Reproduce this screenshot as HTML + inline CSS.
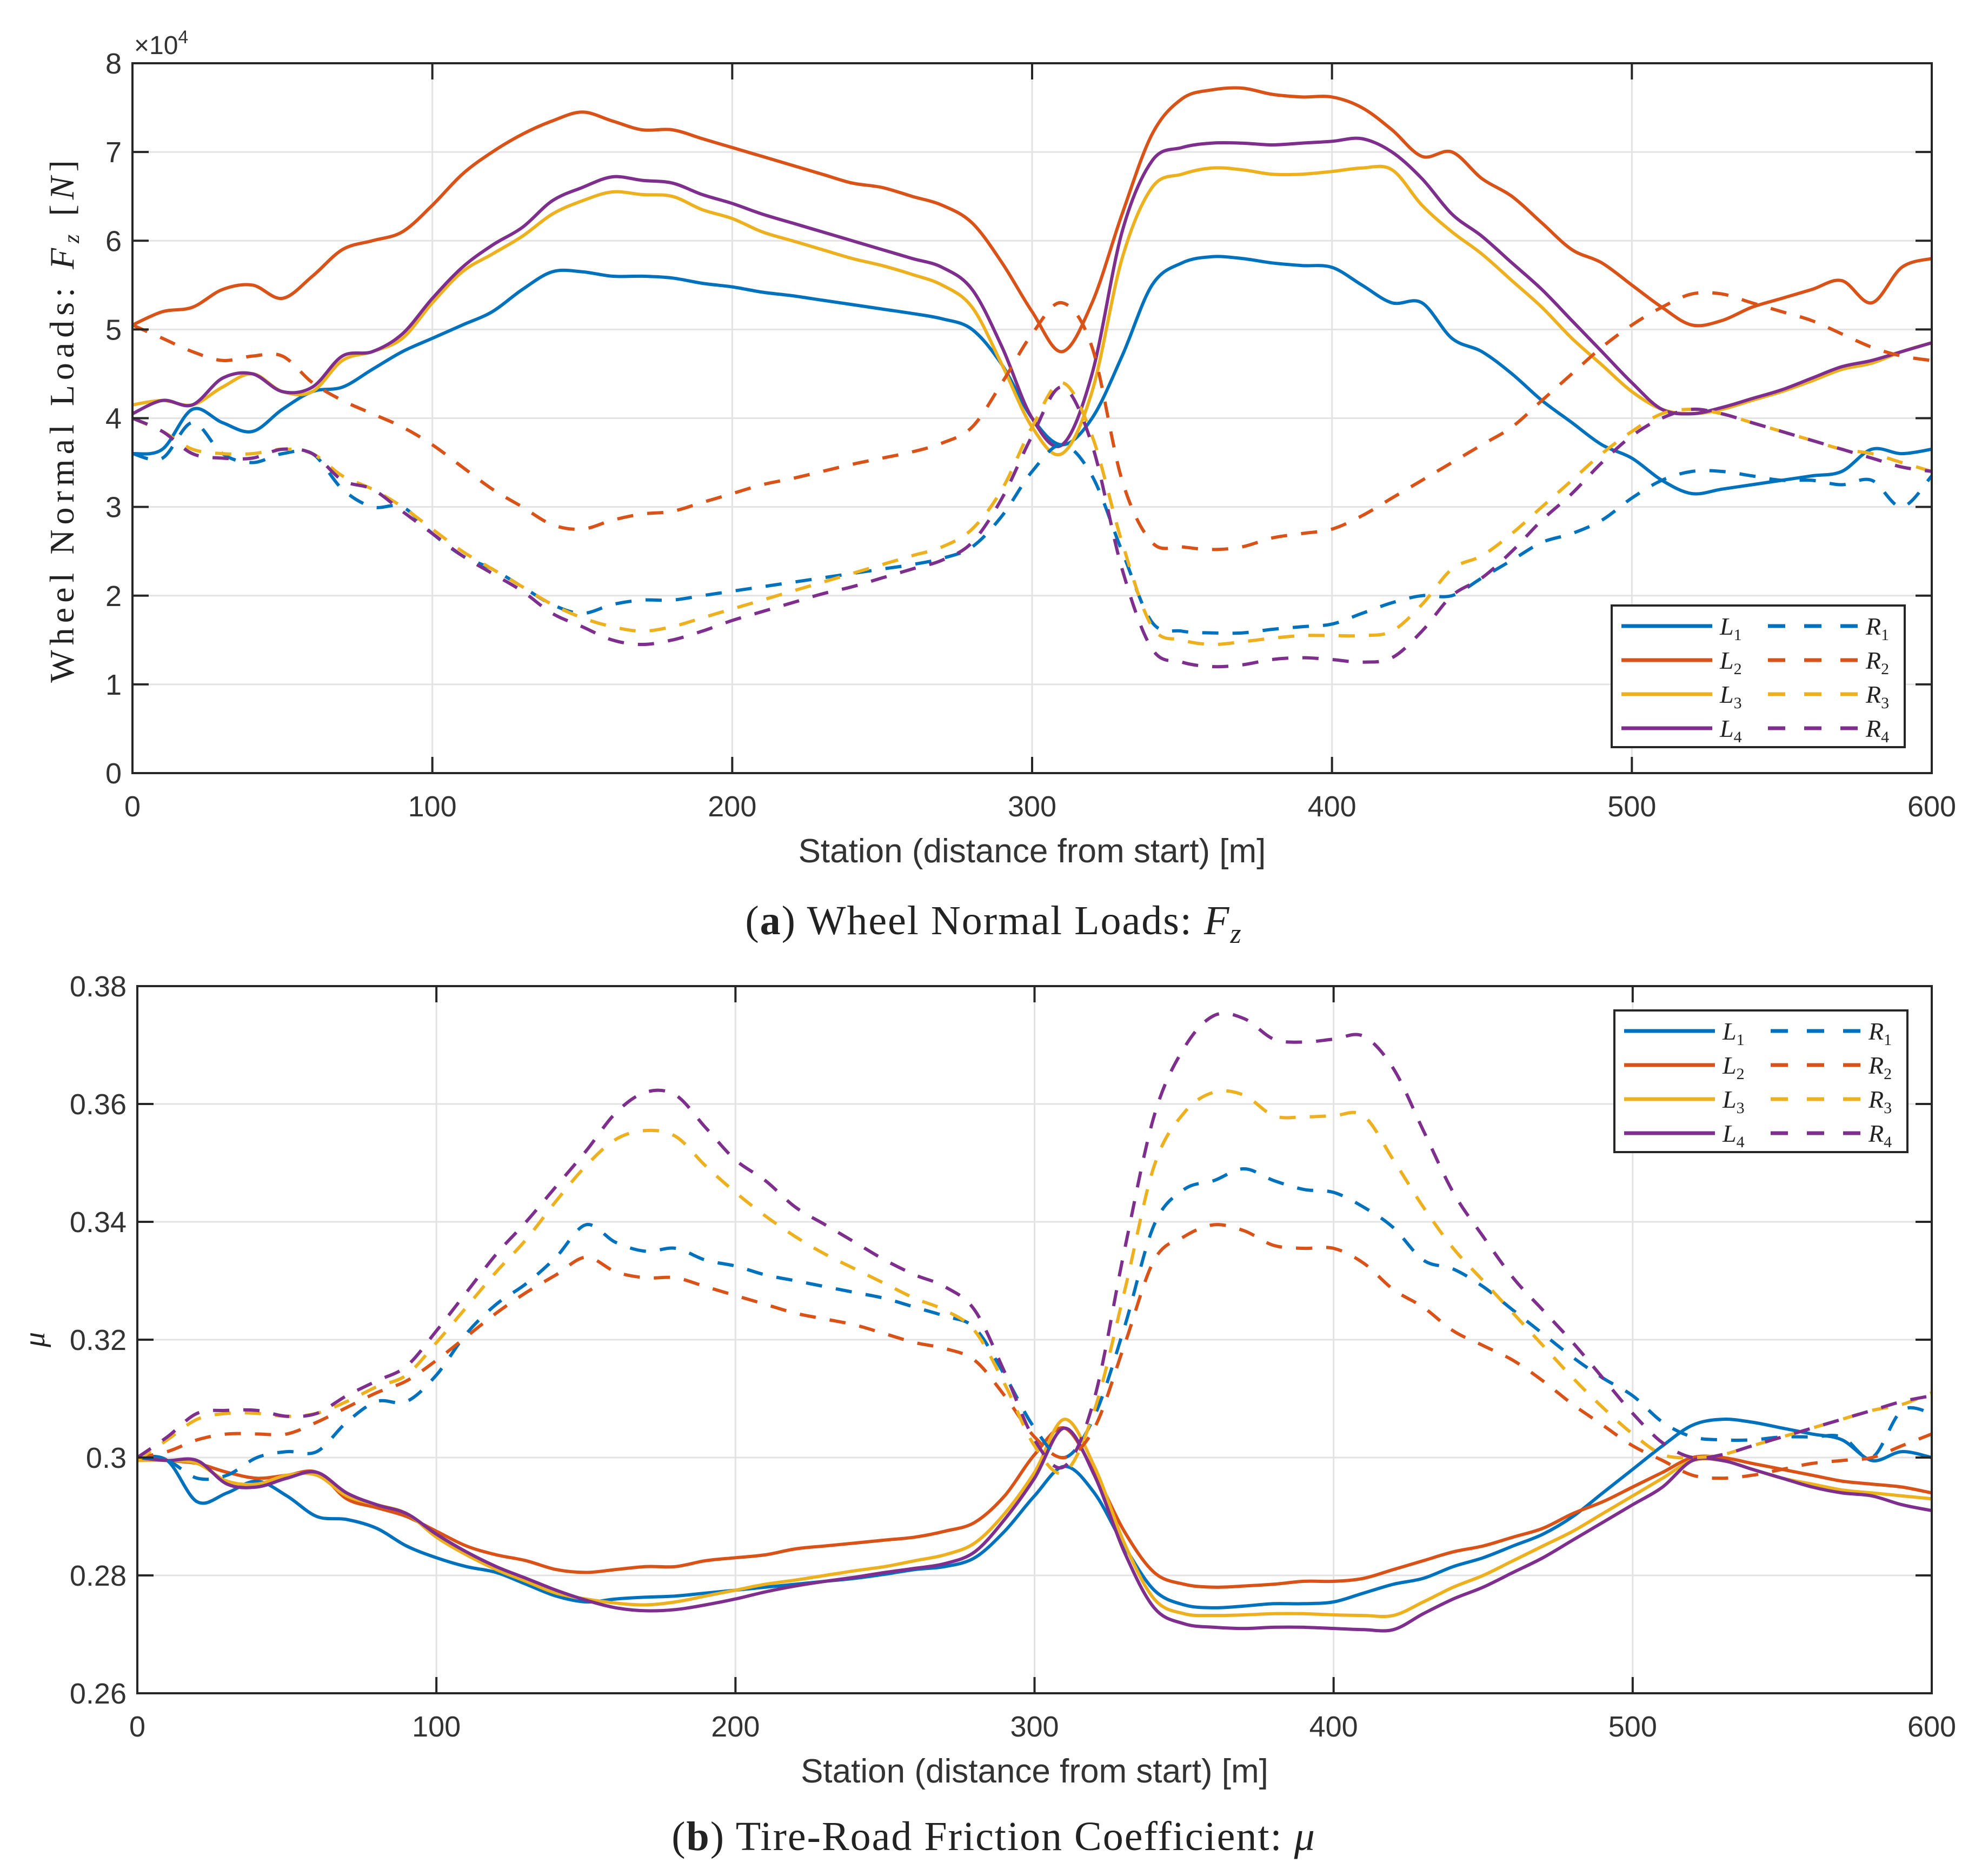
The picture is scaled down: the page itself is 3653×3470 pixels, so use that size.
<!DOCTYPE html>
<html><head><meta charset="utf-8">
<style>
html,body{margin:0;padding:0;background:#fff;}
svg{display:block;}
text{font-family:"Liberation Sans",sans-serif;fill:#333;}
.serif{font-family:"Liberation Serif",serif;fill:#222;}
</style></head>
<body>
<svg id="fig" width="3653" height="3470" viewBox="0 0 3653 3470" xmlns="http://www.w3.org/2000/svg">
<rect width="3653" height="3470" fill="#fff"/>
<g id="plotA"></g>
<g id="plotB"></g>
<text class="serif" x="1838" y="1728" font-size="76" letter-spacing="2" text-anchor="middle">(<tspan font-weight="bold">a</tspan>) Wheel Normal Loads:  <tspan font-style="italic">F</tspan><tspan font-style="italic" font-size="52" dy="16">z</tspan></text>
<text class="serif" x="1838" y="3422" font-size="76" letter-spacing="2" text-anchor="middle">(<tspan font-weight="bold">b</tspan>) Tire-Road Friction Coefficient:  <tspan font-style="italic">μ</tspan></text>
</svg>
<script>
const stations=[0,10,20,30,40,50,60,70,80,90,100,110,120,130,140,150,160,170,180,190,200,210,220,230,240,250,260,270,280,290,300,310,320,330,340,350,360,370,380,390,400,410,420,430,440,450,460,470,480,490,500,510,520,530,540,550,560,570,580,590,600];
const xTicks=[0,100,200,300,400,500,600];
const yTicksA=[0,1,2,3,4,5,6,7,8];
const yTicksB=[0.26,0.28,0.30,0.32,0.34,0.36,0.38];
const yTickLabelsB=["0.26","0.28","0.3","0.32","0.34","0.36","0.38"];
const colors=["#0072BD","#D95319","#EDB120","#7E2F8E"];
// Plot (a): Fz in 1e4 N
const fzL1=[3.6,3.65,4.1,3.95,3.85,4.1,4.3,4.35,4.55,4.75,4.9,5.05,5.2,5.45,5.65,5.65,5.6,5.6,5.58,5.52,5.48,5.42,5.38,5.33,5.28,5.23,5.18,5.12,5.0,4.6,4.0,3.7,4.0,4.7,5.5,5.75,5.82,5.8,5.75,5.72,5.7,5.5,5.3,5.3,4.9,4.75,4.5,4.2,3.95,3.7,3.55,3.3,3.15,3.2,3.25,3.3,3.35,3.4,3.65,3.6,3.65];
const fzL2=[5.05,5.2,5.25,5.45,5.5,5.35,5.6,5.9,6.0,6.1,6.4,6.75,7.0,7.2,7.35,7.45,7.35,7.25,7.25,7.15,7.05,6.95,6.85,6.75,6.65,6.6,6.5,6.4,6.2,5.75,5.2,4.75,5.3,6.3,7.2,7.6,7.7,7.72,7.65,7.62,7.62,7.5,7.25,6.95,7.0,6.7,6.5,6.2,5.9,5.75,5.5,5.25,5.05,5.1,5.25,5.35,5.45,5.55,5.3,5.7,5.8];
const fzL3=[4.15,4.2,4.15,4.35,4.5,4.3,4.3,4.65,4.75,4.9,5.3,5.65,5.85,6.05,6.3,6.45,6.55,6.52,6.5,6.35,6.25,6.1,6.0,5.9,5.8,5.72,5.62,5.5,5.25,4.6,3.9,3.6,4.3,5.8,6.6,6.75,6.82,6.8,6.75,6.75,6.78,6.82,6.8,6.4,6.1,5.85,5.55,5.25,4.9,4.6,4.3,4.1,4.05,4.1,4.2,4.3,4.42,4.55,4.62,4.75,4.85];
const fzL4=[4.05,4.2,4.15,4.45,4.5,4.3,4.35,4.7,4.75,4.95,5.35,5.7,5.95,6.15,6.45,6.6,6.72,6.68,6.65,6.52,6.42,6.3,6.2,6.1,6.0,5.9,5.8,5.7,5.45,4.8,4.0,3.7,4.5,6.1,6.9,7.05,7.1,7.1,7.08,7.1,7.12,7.15,7.0,6.7,6.3,6.05,5.75,5.45,5.1,4.75,4.4,4.1,4.05,4.12,4.22,4.32,4.45,4.58,4.65,4.75,4.85];
const fzR1=[3.6,3.55,3.95,3.6,3.5,3.6,3.6,3.2,3.0,3.0,2.7,2.45,2.3,2.1,1.9,1.8,1.9,1.95,1.95,2.0,2.05,2.1,2.15,2.2,2.25,2.3,2.35,2.42,2.55,2.9,3.4,3.7,3.35,2.5,1.7,1.6,1.58,1.58,1.62,1.65,1.68,1.8,1.92,2.0,2.0,2.2,2.4,2.6,2.7,2.85,3.1,3.3,3.4,3.4,3.35,3.3,3.3,3.25,3.3,3.0,3.35];
const fzR2=[5.05,4.9,4.75,4.65,4.7,4.7,4.4,4.2,4.05,3.9,3.7,3.45,3.2,3.0,2.8,2.75,2.85,2.92,2.95,3.05,3.15,3.25,3.32,3.4,3.48,3.55,3.62,3.72,3.9,4.4,4.95,5.3,4.8,3.3,2.6,2.55,2.52,2.55,2.65,2.7,2.75,2.9,3.1,3.3,3.5,3.7,3.9,4.2,4.5,4.8,5.05,5.25,5.4,5.4,5.3,5.2,5.1,4.95,4.8,4.7,4.65];
const fzR3=[4.0,3.85,3.65,3.6,3.6,3.65,3.6,3.35,3.2,3.0,2.75,2.5,2.3,2.1,1.9,1.75,1.65,1.6,1.65,1.75,1.85,1.95,2.05,2.15,2.25,2.35,2.45,2.55,2.75,3.2,3.9,4.4,3.8,2.6,1.65,1.5,1.45,1.48,1.52,1.55,1.55,1.55,1.6,1.9,2.3,2.45,2.7,3.0,3.3,3.6,3.85,4.05,4.1,4.05,3.95,3.85,3.75,3.65,3.6,3.5,3.4];
const fzR4=[4.0,3.85,3.6,3.55,3.55,3.65,3.6,3.3,3.2,2.95,2.7,2.45,2.25,2.05,1.8,1.65,1.5,1.45,1.5,1.6,1.72,1.82,1.92,2.02,2.1,2.2,2.3,2.4,2.6,3.1,3.8,4.35,3.7,2.3,1.4,1.25,1.2,1.22,1.28,1.3,1.28,1.25,1.3,1.6,2.0,2.2,2.5,2.85,3.15,3.5,3.8,4.0,4.1,4.05,3.95,3.85,3.75,3.65,3.55,3.45,3.4];
// Plot (b): mu
const muL1=[0.300,0.2995,0.2925,0.294,0.296,0.2935,0.290,0.2895,0.288,0.285,0.283,0.2815,0.2805,0.2785,0.2765,0.2755,0.276,0.2763,0.2765,0.277,0.2775,0.278,0.2785,0.279,0.2795,0.2802,0.281,0.2815,0.283,0.2875,0.2935,0.2985,0.294,0.285,0.2775,0.275,0.2745,0.2748,0.2752,0.2752,0.2755,0.277,0.2785,0.2795,0.2815,0.283,0.285,0.287,0.290,0.294,0.298,0.302,0.3055,0.3065,0.306,0.305,0.304,0.303,0.2995,0.301,0.300];
const muL2=[0.300,0.2995,0.299,0.2975,0.2965,0.297,0.2975,0.293,0.2915,0.290,0.2875,0.285,0.2835,0.2825,0.281,0.2805,0.281,0.2815,0.2815,0.2825,0.283,0.2835,0.2845,0.285,0.2855,0.286,0.2865,0.2875,0.289,0.2935,0.3005,0.305,0.2975,0.2875,0.2805,0.2785,0.278,0.2782,0.2785,0.279,0.279,0.2795,0.281,0.2825,0.284,0.285,0.2865,0.288,0.2905,0.2925,0.295,0.2975,0.300,0.300,0.299,0.298,0.297,0.296,0.2955,0.295,0.294];
const muL3=[0.2995,0.2995,0.299,0.296,0.2955,0.297,0.297,0.2935,0.292,0.2905,0.2865,0.2835,0.281,0.279,0.277,0.276,0.2753,0.275,0.2755,0.2765,0.2775,0.2785,0.2792,0.280,0.2808,0.2815,0.2825,0.2835,0.2855,0.2905,0.2975,0.3065,0.2985,0.2855,0.276,0.2735,0.2732,0.2733,0.2735,0.2735,0.2733,0.2732,0.2732,0.2755,0.278,0.280,0.2825,0.285,0.2875,0.2905,0.2935,0.2965,0.2995,0.2995,0.298,0.2965,0.2955,0.2945,0.294,0.2935,0.293];
const muL4=[0.300,0.2995,0.2995,0.2955,0.295,0.2965,0.2975,0.294,0.292,0.2905,0.287,0.284,0.2815,0.2795,0.2775,0.2758,0.2745,0.274,0.2742,0.275,0.276,0.2772,0.2782,0.279,0.2797,0.2805,0.2812,0.282,0.284,0.2895,0.2965,0.305,0.297,0.284,0.2745,0.2718,0.2712,0.271,0.2712,0.2712,0.271,0.2708,0.2708,0.2735,0.276,0.278,0.2805,0.283,0.286,0.289,0.292,0.295,0.2995,0.2995,0.298,0.2965,0.295,0.294,0.2935,0.292,0.291];
const muR1=[0.300,0.2995,0.2965,0.297,0.300,0.301,0.301,0.306,0.3095,0.3095,0.314,0.321,0.326,0.3295,0.334,0.3395,0.3365,0.335,0.3355,0.3335,0.3325,0.331,0.330,0.329,0.328,0.327,0.3255,0.324,0.322,0.314,0.305,0.300,0.307,0.322,0.3395,0.3455,0.347,0.349,0.347,0.3455,0.345,0.3425,0.339,0.3335,0.332,0.329,0.325,0.321,0.317,0.3135,0.3105,0.306,0.3035,0.303,0.303,0.3035,0.3035,0.3035,0.300,0.308,0.3075];
const muR2=[0.300,0.301,0.303,0.304,0.304,0.304,0.306,0.3085,0.311,0.313,0.3165,0.3205,0.3245,0.328,0.331,0.334,0.3315,0.3305,0.3305,0.329,0.3275,0.326,0.3245,0.3235,0.3225,0.321,0.3195,0.3185,0.3165,0.3105,0.3035,0.300,0.305,0.319,0.3335,0.3375,0.3395,0.3385,0.336,0.3355,0.3355,0.333,0.3285,0.3255,0.3215,0.319,0.3165,0.313,0.309,0.3055,0.302,0.2995,0.297,0.2965,0.297,0.298,0.299,0.2995,0.300,0.302,0.304];
const muR3=[0.2995,0.303,0.3065,0.3075,0.3075,0.307,0.3075,0.3095,0.312,0.314,0.3195,0.3255,0.3315,0.337,0.3435,0.3495,0.354,0.3555,0.3545,0.3495,0.345,0.341,0.3375,0.3345,0.332,0.3295,0.327,0.325,0.3215,0.3125,0.302,0.2975,0.308,0.328,0.3495,0.3585,0.362,0.3615,0.358,0.3578,0.358,0.358,0.3505,0.3425,0.3355,0.330,0.3245,0.319,0.3135,0.3085,0.304,0.3005,0.300,0.3005,0.302,0.3035,0.305,0.3065,0.308,0.309,0.311];
const muR4=[0.300,0.3035,0.3075,0.308,0.308,0.307,0.3075,0.3105,0.313,0.3155,0.3215,0.328,0.3345,0.340,0.346,0.352,0.3585,0.362,0.3615,0.356,0.3505,0.347,0.3425,0.3395,0.3365,0.3335,0.331,0.329,0.325,0.3145,0.303,0.2985,0.310,0.335,0.358,0.3695,0.375,0.3745,0.371,0.3705,0.371,0.3715,0.366,0.3555,0.345,0.3375,0.3305,0.325,0.3195,0.3135,0.3075,0.3025,0.300,0.3005,0.302,0.3035,0.305,0.3065,0.308,0.3095,0.3105];

const NS="http://www.w3.org/2000/svg";
function mk(tag,attrs,parent){const e=document.createElementNS(NS,tag);for(const k in attrs)e.setAttribute(k,attrs[k]);if(parent)parent.appendChild(e);return e;}
function smoothPath(pts){
  let d="M"+pts[0][0].toFixed(1)+","+pts[0][1].toFixed(1);
  for(let i=0;i<pts.length-1;i++){
    const p0=pts[i>0?i-1:i],p1=pts[i],p2=pts[i+1],p3=pts[i+2<pts.length?i+2:i+1];
    const c1x=p1[0]+(p2[0]-p0[0])/6,c1y=p1[1]+(p2[1]-p0[1])/6;
    const c2x=p2[0]-(p3[0]-p1[0])/6,c2y=p2[1]-(p3[1]-p1[1])/6;
    d+=" C"+c1x.toFixed(1)+","+c1y.toFixed(1)+" "+c2x.toFixed(1)+","+c2y.toFixed(1)+" "+p2[0].toFixed(1)+","+p2[1].toFixed(1);
  }
  return d;
}
function drawChart(g,cfg){
  const L=cfg.left,R=cfg.right,T=cfg.top,B=cfg.bottom;
  const xs=v=>L+(v-0)/(600-0)*(R-L);
  const ys=v=>B-(v-cfg.ymin)/(cfg.ymax-cfg.ymin)*(B-T);
  xTicks.forEach(t=>{const l=mk("line",{x1:xs(t),x2:xs(t),y1:T,y2:B,stroke:"#e3e3e3","stroke-width":3},g);
    
    });
  cfg.yTicks.forEach(t=>{const l=mk("line",{x1:L,x2:R,y1:ys(t),y2:ys(t),stroke:"#e3e3e3","stroke-width":3},g);
    
    });
  const clipId=cfg.id+"clip";
  const defs=mk("defs",{},g);const cp=mk("clipPath",{id:clipId},defs);mk("rect",{x:L,y:T,width:R-L,height:B-T},cp);
  const sg=mk("g",{"clip-path":"url(#"+clipId+")"},g);
  
  
  cfg.series.forEach((s,i)=>{
    const pts=stations.map((x,j)=>[xs(x),ys(s.vals[j])]);
    const p=mk("path",{d:smoothPath(pts),fill:"none",stroke:s.color,"stroke-width":6,"stroke-linejoin":"round"},sg);
    if(s.dash)p.setAttribute("stroke-dasharray","30 26");
    
    
  });
  const fr=mk("rect",{x:L,y:T,width:R-L,height:B-T,fill:"none",stroke:"#262626","stroke-width":4},g);
  
  
  xTicks.forEach(t=>{
    mk("line",{x1:xs(t),x2:xs(t),y1:B,y2:B-30,stroke:"#262626","stroke-width":4},g);
    mk("line",{x1:xs(t),x2:xs(t),y1:T,y2:T+30,stroke:"#262626","stroke-width":4},g);
    const tx=mk("text",{x:xs(t),y:B+80,"font-size":54,"text-anchor":"middle"},g);tx.textContent=t;
    
    
  });
  cfg.yTicks.forEach((t,i)=>{
    mk("line",{x1:L,x2:L+30,y1:ys(t),y2:ys(t),stroke:"#262626","stroke-width":4},g);
    mk("line",{x1:R,x2:R-30,y1:ys(t),y2:ys(t),stroke:"#262626","stroke-width":4},g);
    const tx=mk("text",{x:L-20,y:ys(t)+19,"font-size":54,"text-anchor":"end"},g);tx.textContent=cfg.yLabels[i];
    
    
  });
  const xl=mk("text",{x:(L+R)/2,y:B+165,"font-size":62,"text-anchor":"middle"},g);xl.textContent="Station (distance from start) [m]";
  
  
  const lg=mk("g",{},g);
  
  
  mk("rect",{x:cfg.lx,y:cfg.ly,width:542,height:262,fill:"#fff",stroke:"#262626","stroke-width":4},lg);
  for(let i=0;i<4;i++){
    const y=cfg.ly+38+i*63;
    const e=mk("g",{},lg);
    
    
    mk("line",{x1:cfg.lx+18,x2:cfg.lx+186,y1:y,y2:y,stroke:colors[i],"stroke-width":7},e);
    const t1=mk("text",{x:cfg.lx+200,y:y+16,"font-size":46,"font-style":"italic",class:"serif"},e);
    t1.innerHTML="L<tspan font-size='30' dy='10' font-style='normal'>"+(i+1)+"</tspan>";
    mk("line",{x1:cfg.lx+289,x2:cfg.lx+455,y1:y,y2:y,stroke:colors[i],"stroke-width":7,"stroke-dasharray":"32 35"},e);
    const t2=mk("text",{x:cfg.lx+470,y:y+16,"font-size":46,"font-style":"italic",class:"serif"},e);
    t2.innerHTML="R<tspan font-size='30' dy='10' font-style='normal'>"+(i+1)+"</tspan>";
  }
}
const gA=document.getElementById("plotA");
drawChart(gA,{id:"a",left:245,right:3573,top:117,bottom:1430,ymin:0,ymax:8,yTicks:yTicksA,yLabels:yTicksA.map(String),lx:2981,ly:1120,
  series:[{vals:fzL1,color:colors[0],name:"series-L1"},{vals:fzL2,color:colors[1],name:"series-L2"},{vals:fzL3,color:colors[2],name:"series-L3"},{vals:fzL4,color:colors[3],name:"series-L4"},
          {vals:fzR1,color:colors[0],dash:1,name:"series-R1"},{vals:fzR2,color:colors[1],dash:1,name:"series-R2"},{vals:fzR3,color:colors[2],dash:1,name:"series-R3"},{vals:fzR4,color:colors[3],dash:1,name:"series-R4"}]});
const gB=document.getElementById("plotB");
drawChart(gB,{id:"b",left:254,right:3573,top:1824,bottom:3132,ymin:0.26,ymax:0.38,yTicks:yTicksB,yLabels:yTickLabelsB,lx:2986,ly:1869,
  series:[{vals:muL1,color:colors[0],name:"series-L1"},{vals:muL2,color:colors[1],name:"series-L2"},{vals:muL3,color:colors[2],name:"series-L3"},{vals:muL4,color:colors[3],name:"series-L4"},
          {vals:muR1,color:colors[0],dash:1,name:"series-R1"},{vals:muR2,color:colors[1],dash:1,name:"series-R2"},{vals:muR3,color:colors[2],dash:1,name:"series-R3"},{vals:muR4,color:colors[3],dash:1,name:"series-R4"}]});
const ex=mk("text",{x:248,y:100,"font-size":48,fill:"#555"},gA);ex.innerHTML="×10<tspan font-size='34' dy='-20'>4</tspan>";


const yla=mk("text",{x:0,y:0,"font-size":64,"letter-spacing":"9","text-anchor":"middle",class:"serif",transform:"translate(136,775) rotate(-90)"},gA);
yla.innerHTML="Wheel Normal Loads:  <tspan font-style='italic'>F</tspan><tspan font-style='italic' font-size='42' dy='10'>z</tspan><tspan dy='-10'> [</tspan><tspan font-style='italic'>N</tspan>]";


const ylb=mk("text",{x:0,y:0,"font-size":56,"text-anchor":"middle",class:"serif","font-style":"italic",transform:"translate(82,2478) rotate(-90)"},gB);
ylb.textContent="μ";


</script>
</body></html>
